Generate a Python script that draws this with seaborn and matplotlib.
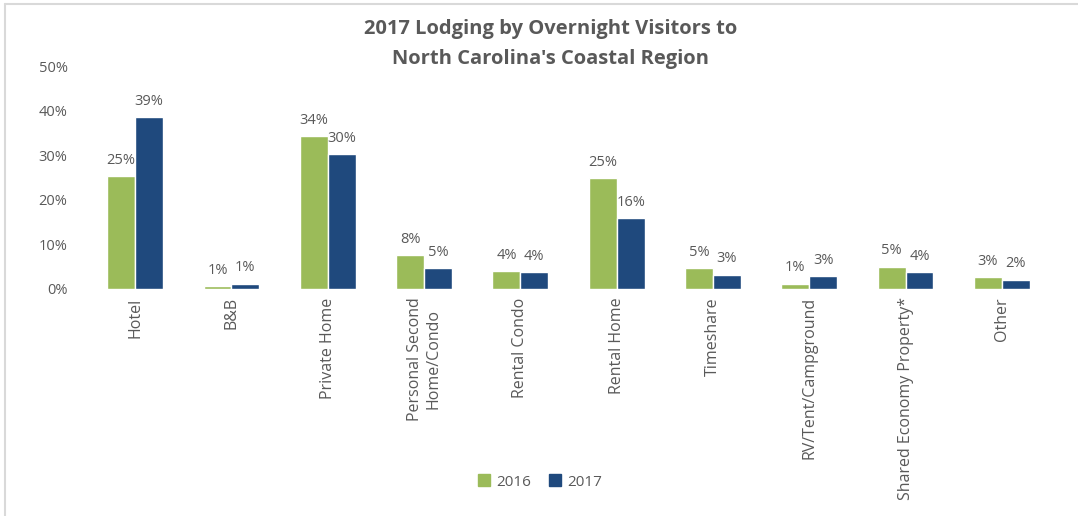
import matplotlib
matplotlib.use("Agg")
import matplotlib.pyplot as plt
import seaborn as sns
import pandas as pd
from matplotlib.lines import Line2D

categories = ["Hotel", "B&B", "Private Home", "Personal Second\nHome/Condo", "Rental Condo",
              "Rental Home", "Timeshare", "RV/Tent/Campground", "Shared Economy Property*", "Other"]
values_2016 = [25.3, 0.6, 34.2, 7.6, 4.0, 24.8, 4.6, 1.2, 5.0, 2.6]
values_2017 = [38.6, 1.2, 30.3, 4.6, 3.7, 15.9, 3.2, 2.9, 3.7, 2.1]
series = ["2016", "2017"]
yticks = [0, 10, 20, 30, 40, 50]

df = pd.DataFrame({
    "Category": categories * 2,
    "Value": values_2016 + values_2017,
    "Year": [series[0]] * len(categories) + [series[1]] * len(categories),
})

sns.set_theme(style="white")
plt.rcParams['font.family'] = ['Open Sans', 'DejaVu Sans']
txt = "#595959"

fig = plt.figure(figsize=(10.78, 5.16), dpi=100)
ax = fig.add_axes([87/1078, 1-289/516, (1050-87)/1078, (289-66)/516])

sns.barplot(data=df, x="Category", y="Value", hue="Year", order=categories,
            hue_order=series, palette=["#9BBB59", "#1F497D"], width=0.58,
            saturation=1, ax=ax, legend=False)

for cont in ax.containers:
    ax.bar_label(cont, labels=[f"{v:.0f}%" for v in cont.datavalues],
                 fontsize=10.5, color=txt, padding=6)

ax.set_ylim(0, 50)
ax.set_yticks(yticks)
ax.set_yticklabels([f"{t}%" for t in yticks], fontsize=10.5, color=txt)
ax.tick_params(axis="y", pad=14, length=0)
ax.tick_params(axis="x", length=0, pad=6)
ax.set_xticks(range(len(categories)))
ax.set_xticklabels(categories, rotation=90, fontsize=11.5, color=txt, va="top", ha="center")
ax.set_xlabel("")
ax.set_ylabel("")
for s in ax.spines.values():
    s.set_visible(False)

fig.text(551/1078, 1-29/516, "2017 Lodging by Overnight Visitors to", ha="center", va="center",
         fontsize=14.5, fontweight="bold", color=txt)
fig.text(551/1078, 1-59/516, "North Carolina's Coastal Region", ha="center", va="center",
         fontsize=14.5, fontweight="bold", color=txt)

handles = [plt.Rectangle((0, 0), 1, 1, color="#9BBB59"), plt.Rectangle((0, 0), 1, 1, color="#1F497D")]
fig.legend(handles, series, loc="center", bbox_to_anchor=(540/1078, 1-482/516), ncol=2,
           frameon=False, fontsize=11, handlelength=0.8, handleheight=0.8,
           handletextpad=0.4, columnspacing=1.2, labelcolor=txt)

fig.add_artist(Line2D([5/1078, 1], [1-4/516, 1-4/516], color="#D9D9D9", lw=1.5, transform=fig.transFigure))
fig.add_artist(Line2D([5/1078, 5/1078], [0, 1-4/516], color="#D9D9D9", lw=1.5, transform=fig.transFigure))

fig.savefig("out.png", dpi=100)
